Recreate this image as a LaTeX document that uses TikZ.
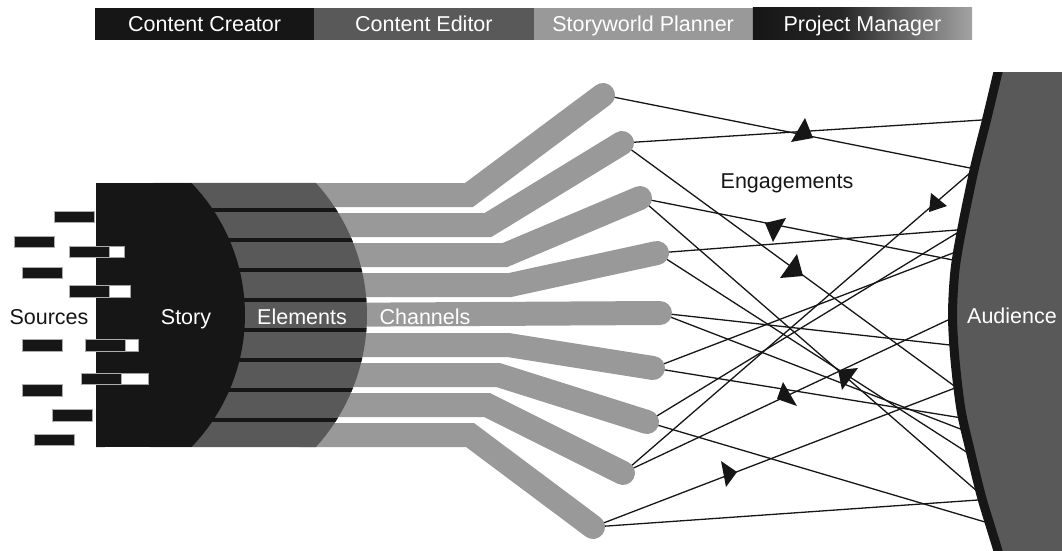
\documentclass[tikz,border=0pt]{standalone}
\usepackage{fontspec}
\setmainfont{Liberation Sans}
\definecolor{dk}{HTML}{161616}
\definecolor{mid}{HTML}{595959}
\definecolor{lt}{HTML}{999999}
\definecolor{pmmid}{HTML}{262626}
\definecolor{pmend}{HTML}{A3A3A3}
\pgfdeclarehorizontalshading{pmshade}{100bp}{color(0bp)=(dk); color(25bp)=(dk); color(45bp)=(pmmid); color(75bp)=(pmend); color(100bp)=(pmend)}
\begin{document}
\begin{tikzpicture}[x=1pt,y=-1pt,
  lbl/.style={font=\fontsize{21.5}{25}\selectfont, inner sep=0pt, anchor=base},
  eng/.style={line width=1.3pt, draw=dk, shorten >=-6pt},
  chan/.style={line width=24pt, draw=lt, line cap=round, line join=miter},
  src/.style={fill=dk, draw=gray!65, line width=0.6pt},
  srcw/.style={fill=white, draw=gray!75, line width=0.6pt},
  tip/.style={fill=dk}
]
\useasboundingbox (0,0) rectangle (1062,551);

% top role bar
\fill[dk] (95,8) rectangle (314.3,40);
\fill[mid] (314.3,8) rectangle (533.5,40);
\fill[lt] (533.5,8) rectangle (752.8,40);
\shade[shading=pmshade] (752.8,8) rectangle (972,40);
\node[lbl, text=white] (cc) at (204.6,31.5) {Content Creator};
\node[lbl, text=white] (ce) at (423.9,31.5) {Content Editor};
\node[lbl, text=white] (sp) at (643.1,31.5) {Storyworld Planner};
\node[lbl, text=white] (pm) at (862.4,31.5) {Project Manager};

% channel ends
\coordinate (c1) at (603,95);
\coordinate (c2) at (622,143);
\coordinate (c3) at (640,198);
\coordinate (c4) at (657,253);
\coordinate (c5) at (660,313);
\coordinate (c6) at (653,368);
\coordinate (c7) at (647,422);
\coordinate (c8) at (623,473);
\coordinate (c9) at (593,527);
% audience contact points
\coordinate (aA) at (970,168);
\coordinate (aB) at (982,120);
\coordinate (aC) at (953,385);
\coordinate (aD) at (953,260);
\coordinate (aE) at (978,492);
\coordinate (aF) at (957,230);
\coordinate (aG) at (968,453);
\coordinate (aH) at (950,345);
\coordinate (aI) at (963,430);
\coordinate (aJ) at (953,253);
\coordinate (aK) at (962,418);
\coordinate (aL) at (957,233);
\coordinate (aM) at (985,522);
\coordinate (aN) at (948,320);
\coordinate (aO) at (970,173);
\coordinate (aP) at (955,388);
\coordinate (aQ) at (978,500);

% engagement lines
\draw[eng] (c1) -- (aA);
\draw[eng] (c2) -- (aB);
\draw[eng] (c2) -- (aC);
\draw[eng] (c3) -- (aD);
\draw[eng] (c3) -- (aE);
\draw[eng] (c4) -- (aF);
\draw[eng] (c4) -- (aG);
\draw[eng] (c5) -- (aH);
\draw[eng] (c5) -- (aI);
\draw[eng] (c6) -- (aJ);
\draw[eng] (c6) -- (aK);
\draw[eng] (c7) -- (aL);
\draw[eng] (c7) -- (aM);
\draw[eng] (c8) -- (aN);
\draw[eng] (c8) -- (aO);
\draw[eng] (c9) -- (aP);
\draw[eng] (c9) -- (aQ);

% channel bars
\draw[chan] (300,195) -- (469,195) -- (c1);
\draw[chan] (300,225) -- (488,225) -- (c2);
\draw[chan] (300,255) -- (505,255) -- (c3);
\draw[chan] (300,285) -- (510,285) -- (c4);
\draw[chan] (300,315) -- (c5);
\draw[chan] (300,345) -- (508,345) -- (c6);
\draw[chan] (300,375) -- (498,375) -- (c7);
\draw[chan] (300,405) -- (487,405) -- (c8);
\draw[chan] (300,435) -- (470,435) -- (c9);

% elements
\begin{scope}
\path[clip] (150,183) -- plot[domain=-42.3:42.3,samples=40] ({170.7+196.3*cos(\x)},{315+196.3*sin(\x)}) -- (150,447) -- cycle;
\fill[mid] (140,170) rectangle (380,460);
\foreach \k in {0,...,7} \fill[dk] (140,{208.25+30*\k}) rectangle (380,{211.75+30*\k});
\end{scope}

% story
\fill[dk] (96,183) -- plot[domain=-44.1:44.1,samples=40] ({55.4+189.6*cos(\x)},{315+189.6*sin(\x)}) -- (96,447) -- cycle;

% sources
\draw[src] (54,211) rectangle (94,222.5);
\draw[src] (14,236) rectangle (54,247.5);
\draw[srcw] (109,246) rectangle (124,257.5);
\draw[src] (69,246) rectangle (109,257.5);
\draw[src] (22,267) rectangle (62,278.5);
\draw[srcw] (109,285.5) rectangle (130,297);
\draw[src] (69,285.5) rectangle (109,297);
\draw[src] (22,339.5) rectangle (62,351);
\draw[srcw] (125,339.5) rectangle (138,351);
\draw[src] (85,339.5) rectangle (125,351);
\draw[srcw] (121,373) rectangle (148,384.5);
\draw[src] (81,373) rectangle (121,384.5);
\draw[src] (22,384.5) rectangle (62,396);
\draw[src] (52,409.5) rectangle (92,421);
\draw[src] (34,434) rectangle (74,445.5);

% arrowheads
\fill[tip] (805,118) -- (791,142) -- (813,138) -- cycle;
\fill[tip] (931,193) -- (929,212) -- (947,206) -- cycle;
\fill[tip] (765,223) -- (786,218) -- (773,242) -- cycle;
\fill[tip] (797,254) -- (780,278) -- (803,276) -- cycle;
\fill[tip] (838,370) -- (858,368) -- (842,390) -- cycle;
\fill[tip] (783,382) -- (777,399) -- (797,406) -- cycle;
\fill[tip] (721,461) -- (726,487) -- (737,472) -- cycle;

% audience
\begin{scope}
\clip (900,72.5) rectangle (1062,551);
\fill[mid] plot[smooth] coordinates {(1002.5,55) (998,72) (986.5,120) (974.5,168) (962,228) (955,270) (952.5,315) (955,360) (961,410) (970,450) (981,495) (990,525) (998,551) (1003,570)} -- (1062,570) -- (1062,55) -- cycle;
\draw[dk, line width=9pt] plot[smooth] coordinates {(1002.5,55) (998,72) (986.5,120) (974.5,168) (962,228) (955,270) (952.5,315) (955,360) (961,410) (970,450) (981,495) (990,525) (998,551) (1003,570)};
\end{scope}

% labels
\node[lbl, text=dk] (sources) at (49,324) {Sources};
\node[lbl, text=white] (story) at (186,324) {Story};
\node[lbl, text=white] (elements) at (302,324) {Elements};
\node[lbl, text=white] (channels) at (425,324) {Channels};
\node[lbl, text=dk] (engage) at (787,188) {Engagements};
\node[lbl, text=white] (audience) at (1012,323) {Audience};
\end{tikzpicture}
\end{document}
